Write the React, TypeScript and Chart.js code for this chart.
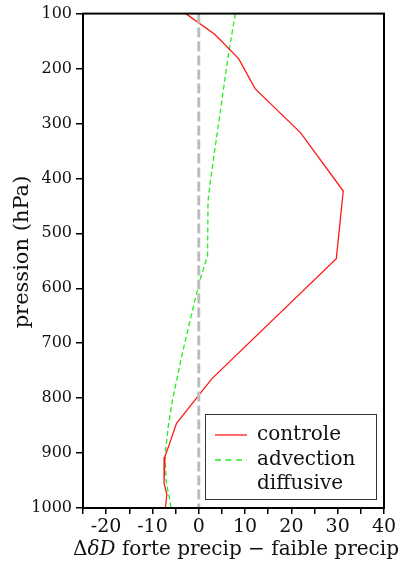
import React, { useEffect, useRef } from 'react';
import { Chart, registerables } from 'chart.js';

Chart.register(...registerables);

// ---- data ----
const seriesLabels = ['controle', 'advection', 'diffusive'];
const controlePressure = [100, 138, 182, 237, 317, 423, 546, 765, 846, 907, 955, 975, 1000];
const controleValues = [-2.8, 3.5, 8.6, 12.2, 22.0, 31.2, 29.7, 2.8, -4.8, -7.3, -7.5, -6.9, -7.2];
const advectionPressure = [100, 169, 405, 441, 541, 586, 635, 677, 713, 756, 804, 852, 907, 955, 979, 1000];
const advectionValues = [7.9, 6.5, 2.5, 2.0, 1.9, 0.2, -1.2, -2.4, -3.4, -4.5, -5.7, -6.6, -7.3, -7.0, -6.4, -6.0];
const diffusivePressure: number[] = [];
const diffusiveValues: number[] = [];
const zeroLinePressure = [100, 1000];
const zeroLineValues = [0, 0];
const xRange = [-25, 40];
const yRange = [100, 1000];
const xTickStep = 5;
const xLabelStep = 10;
const yTickStep = 100;
const yTitle = 'pression (hPa)';
const xTitleParts = ['Δ', 'δD', ' forte precip − faible precip'];

const FONT = "'DejaVu Serif', serif";

const framePlugin = {
  id: 'frameAndLegend',
  afterDraw(chart: any) {
    const { ctx, chartArea } = chart;
    ctx.save();
    // frame
    ctx.strokeStyle = '#000';
    ctx.lineWidth = 2;
    ctx.strokeRect(chartArea.left, chartArea.top, chartArea.right - chartArea.left, chartArea.bottom - chartArea.top);

    // legend box
    const bx = 205.5, by = 414.5, bw = 171, bh = 85;
    ctx.fillStyle = '#fff';
    ctx.fillRect(bx, by, bw, bh);
    ctx.strokeStyle = '#333';
    ctx.lineWidth = 1;
    ctx.strokeRect(bx, by, bw, bh);
    const rows = [435, 460, 484];
    const ds = chart.data.datasets.filter((d: any) => !d.hideInLegend);
    ds.forEach((d: any, i: number) => {
      const y = rows[i];
      if (d.data.length > 0) {
        ctx.beginPath();
        ctx.strokeStyle = d.borderColor;
        ctx.lineWidth = 1.3;
        ctx.setLineDash(d.borderDash && d.borderDash.length ? [6, 4.5] : []);
        ctx.moveTo(215, y);
        ctx.lineTo(247, y);
        ctx.stroke();
        ctx.setLineDash([]);
      }
      ctx.fillStyle = '#111';
      ctx.font = `20px ${FONT}`;
      ctx.textBaseline = 'middle';
      ctx.textAlign = 'left';
      ctx.fillText(d.label, 257, y);
    });

    // y title
    ctx.save();
    ctx.translate(23, 252);
    ctx.rotate(-Math.PI / 2);
    ctx.font = `21px ${FONT}`;
    ctx.fillStyle = '#111';
    ctx.textAlign = 'center';
    ctx.textBaseline = 'middle';
    ctx.fillText(yTitle, 0, 0);
    ctx.restore();

    // x title with italic δD
    ctx.fillStyle = '#111';
    ctx.textBaseline = 'alphabetic';
    ctx.textAlign = 'left';
    const fonts = [`20px ${FONT}`, `italic 20px ${FONT}`, `20px ${FONT}`];
    let total = 0;
    xTitleParts.forEach((t, i) => {
      ctx.font = fonts[i];
      total += ctx.measureText(t).width;
    });
    let x = 236 - total / 2;
    const baseY = 555;
    xTitleParts.forEach((t, i) => {
      ctx.font = fonts[i];
      ctx.fillText(t, x, baseY);
      x += ctx.measureText(t).width;
    });
    ctx.restore();
  },
};

export default function App() {
  const ref = useRef<HTMLCanvasElement | null>(null);
  useEffect(() => {
    if (!ref.current) return;
    const toPts = (xs: number[], ps: number[]) => xs.map((v, i) => ({ x: v, y: ps[i] }));
    const chart = new Chart(ref.current, {
      type: 'line',
      data: {
        datasets: [
          {
            label: 'zero',
            data: toPts(zeroLineValues, zeroLinePressure),
            borderColor: '#bdbdbd',
            borderWidth: 3,
            borderDash: [10, 4],
            pointRadius: 0,
            hideInLegend: true,
          } as any,
          {
            label: seriesLabels[0],
            data: toPts(controleValues, controlePressure),
            borderColor: '#ff1a1a',
            borderWidth: 1.3,
            pointRadius: 0,
          },
          {
            label: seriesLabels[1],
            data: toPts(advectionValues, advectionPressure),
            borderColor: '#22ee22',
            borderWidth: 1.3,
            borderDash: [5, 3],
            pointRadius: 0,
          },
          {
            label: seriesLabels[2],
            data: toPts(diffusiveValues, diffusivePressure),
            borderColor: 'rgba(0,0,0,0)',
            borderWidth: 1.3,
            pointRadius: 0,
          },
        ],
      },
      options: {
        animation: false,
        responsive: false,
        events: [],
        layout: { padding: { top: 12, right: 28, left: 0, bottom: 0 } },
        plugins: { legend: { display: false }, tooltip: { enabled: false } },
        scales: {
          x: {
            type: 'linear',
            min: xRange[0],
            max: xRange[1],
            border: { display: true, color: '#000', width: 2 },
            grid: { drawOnChartArea: false, drawTicks: true, tickLength: 6, color: '#000', lineWidth: 1.5 },
            ticks: {
              stepSize: xTickStep,
              autoSkip: false,
              maxRotation: 0,
              padding: 2,
              color: '#111',
              font: { family: FONT, size: 19 },
              callback: (v: any) => (Math.round(Number(v)) % xLabelStep === 0 ? String(Number(v)) : ''),
            },
            afterFit: (s: any) => {
              s.height = 55;
            },
          },
          y: {
            type: 'linear',
            reverse: true,
            min: yRange[0],
            max: yRange[1],
            border: { display: true, color: '#000', width: 2 },
            grid: { drawOnChartArea: false, drawTicks: true, tickLength: 7, color: '#000', lineWidth: 1.5 },
            ticks: {
              stepSize: yTickStep,
              autoSkip: false,
              padding: 4,
              color: '#111',
              font: { family: FONT, size: 16 },
              callback: (v: any) => String(Number(v)),
            },
            afterFit: (s: any) => {
              s.width = 83;
            },
          },
        },
      },
      plugins: [framePlugin],
    });
    return () => chart.destroy();
  }, []);
  return (
    <div style={{ position: 'absolute', left: 0, top: 0, width: 412, height: 563, background: '#fff' }}>
      <canvas ref={ref} width={412} height={563} />
    </div>
  );
}
